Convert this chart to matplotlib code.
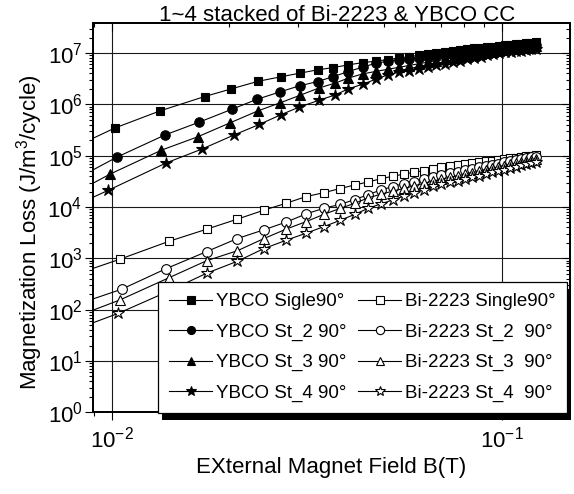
import numpy as np
import matplotlib
matplotlib.use('Agg')
import matplotlib.pyplot as plt
from matplotlib.ticker import LogLocator, NullFormatter, LogFormatterMathtext
from matplotlib.lines import Line2D
from matplotlib.patches import Rectangle

plt.rcParams['font.family'] = ['Liberation Sans', 'DejaVu Sans']
plt.rcParams['mathtext.fontset'] = 'custom'
plt.rcParams['mathtext.rm'] = 'Liberation Sans'
plt.rcParams['mathtext.it'] = 'Liberation Sans:italic'
plt.rcParams['mathtext.bf'] = 'Liberation Sans:bold'

# ---------------- data ----------------
title = "1~4 stacked of Bi-2223 & YBCO CC"
xlabel = "EXternal Magnet Field B(T)"
ylabel = "Magnetization Loss (J/m$^\\mathregular{3}$/cycle)"

x_ybco_tail = [0.0476, 0.0510, 0.0544, 0.0578, 0.0612, 0.0646, 0.0680, 0.0714, 0.0748,
               0.0782, 0.0816, 0.0850, 0.0884, 0.0918, 0.0952, 0.0986, 0.1020, 0.1054,
               0.1088, 0.1122, 0.1156, 0.1190, 0.1224]
x_bi_tail = [0.0175, 0.0210, 0.0245, 0.0280, 0.0315, 0.0350, 0.0385, 0.0420, 0.0455,
             0.0490, 0.0525, 0.0560, 0.0595, 0.0630, 0.0665, 0.0700, 0.0735, 0.0770,
             0.0805, 0.0840, 0.0875, 0.0910, 0.0945, 0.0980, 0.1015, 0.1050, 0.1085,
             0.1120, 0.1155, 0.1190, 0.1225]

x_ybco_s1 = [0.0068, 0.0102, 0.0133, 0.0173, 0.0202, 0.0237, 0.0271, 0.0304, 0.0337,
             0.0370, 0.0404, 0.0442] + x_ybco_tail
y_ybco_s1 = [8.2e4, 3.48e5, 7.47e5, 1.42e6, 1.99e6, 2.81e6, 3.44e6, 4.06e6, 4.71e6,
             5.21e6, 5.89e6, 6.53e6,
             6.95e6, 7.47e6, 7.98e6, 8.49e6, 9.0e6, 9.51e6, 1.002e7, 1.054e7, 1.105e7,
             1.156e7, 1.193e7, 1.23e7, 1.267e7, 1.303e7, 1.339e7, 1.374e7, 1.41e7,
             1.445e7, 1.479e7, 1.513e7, 1.548e7, 1.581e7, 1.614e7]

x_ybco_s2 = [0.0068, 0.0103, 0.0137, 0.0167, 0.0203, 0.0235, 0.0270, 0.0303, 0.0337,
             0.0370, 0.0404, 0.0442] + x_ybco_tail
y_ybco_s2 = [1.73e4, 9.35e4, 2.54e5, 4.46e5, 8.0e5, 1.245e6, 1.75e6, 2.3e6, 2.78e6,
             3.48e6, 4.36e6, 5.38e6,
             6.35e6, 6.92e6, 7.41e6, 7.8e6, 8.18e6, 8.56e6, 8.94e6, 9.31e6, 9.68e6,
             1.005e7, 1.041e7, 1.077e7, 1.113e7, 1.148e7, 1.185e7, 1.22e7, 1.256e7,
             1.291e7, 1.325e7, 1.36e7, 1.394e7, 1.428e7, 1.462e7]

x_ybco_s3 = [0.0068, 0.0099, 0.0134, 0.0166, 0.0201, 0.0237, 0.0270, 0.0303, 0.0339,
             0.0374, 0.0404, 0.0440] + x_ybco_tail
y_ybco_s3 = [9.5e3, 4.38e4, 1.28e5, 2.33e5, 4.36e5, 7.47e5, 1.07e6, 1.49e6, 2.07e6,
             2.6e6, 3.24e6, 3.93e6,
             4.39e6, 4.82e6, 5.26e6, 5.71e6, 6.18e6, 6.64e6, 7.1e6, 7.52e6, 7.95e6,
             8.38e6, 8.81e6, 9.25e6, 9.69e6, 1.014e7, 1.058e7, 1.103e7, 1.14e7,
             1.174e7, 1.209e7, 1.245e7, 1.279e7, 1.314e7, 1.349e7]

x_ybco_s4 = [0.0068, 0.0098, 0.0138, 0.0170, 0.0206, 0.0239, 0.0271, 0.0302, 0.0340,
             0.0374, 0.0404, 0.0441] + x_ybco_tail
y_ybco_s4 = [5.97e3, 2.12e4, 7.24e4, 1.34e5, 2.54e5, 4.07e5, 6.24e5, 8.82e5, 1.2e6,
             1.53e6, 2.0e6, 2.49e6,
             3.1e6, 3.76e6, 4.2e6, 4.54e6, 4.95e6, 5.37e6, 5.8e6, 6.24e6, 6.68e6,
             7.13e6, 7.59e6, 8.06e6, 8.54e6, 9.02e6, 9.51e6, 1.0e7, 1.03e7, 1.06e7,
             1.09e7, 1.12e7, 1.146e7, 1.174e7, 1.2e7]

x_bi_s1 = [0.0070, 0.0105, 0.0140] + x_bi_tail
y_bi_s1 = [336, 964, 2140,
           3690, 5810, 8630, 11860, 15960, 19050, 22900, 26900, 30900, 35500,
           39800, 43600, 47300, 51300, 55000, 58900, 62400, 66100, 69200, 71900,
           74700, 77500, 80300, 83000, 85800, 88500, 91300, 94000, 96700, 99400, 102200]

x_bi_s2 = [0.0070, 0.0106, 0.0138] + x_bi_tail
y_bi_s2 = [86, 250, 632,
           1352, 2432, 3580, 5080, 7340, 9480, 11200, 14000, 17500, 21500,
           25000, 28500, 31300, 34800, 39100, 42400, 45600, 48900, 52300, 55700,
           59300, 62900, 66600, 70400, 74100, 77700, 81300, 84900, 88600, 92300, 96200]

x_bi_s3 = [0.0070, 0.0105, 0.0140] + x_bi_tail
y_bi_s3 = [48, 155, 417,
           898, 1407, 2410, 3710, 5190, 7210, 9390, 11860, 15100, 17800,
           20300, 23000, 25800, 28800, 32000, 34800, 37800, 40700, 43900, 47000,
           50300, 53700, 57100, 60700, 64300, 67900, 71600, 75300, 79200, 83000, 87100]

x_bi_s4 = [0.0070, 0.0104, 0.0140] + x_bi_tail
y_bi_s4 = [27.6, 85, 230,
           512, 878, 1540, 2250, 3090, 4150, 5500, 7200, 9480, 11500,
           13700, 16200, 18900, 21900, 25100, 27500, 30100, 32700, 35400, 38200,
           41100, 44000, 47100, 50300, 53700, 57200, 60700, 64400, 68100, 71900, 75900]

labels_ybco = ["YBCO Sigle90°", "YBCO St_2 90°", "YBCO St_3 90°", "YBCO St_4 90°"]
labels_bi = ["Bi-2223 Single90°", "Bi-2223 St_2  90°", "Bi-2223 St_3  90°",
             "Bi-2223 St_4  90°"]

# ---------------- figure ----------------
W, H = 574, 494
fig = plt.figure(figsize=(W / 100, H / 100), dpi=100)
L, R, T, B = 93, 570, 22.7, 412.3
rect = [L / W, 1 - B / H, (R - L) / W, (B - T) / H]
ax = fig.add_axes(rect)
ax.set_xscale('log')
ax.set_yscale('log')
xlim = (0.00895, 0.1496)
ylim = (1, 3.9e7)
ax.set_xlim(*xlim)
ax.set_ylim(*ylim)

series = [
    (x_ybco_s1, y_ybco_s1, 's', 6.0, True),
    (x_ybco_s2, y_ybco_s2, 'o', 6.8, True),
    (x_ybco_s3, y_ybco_s3, '^', 7.2, True),
    (x_ybco_s4, y_ybco_s4, '*', 9.0, True),
    (x_bi_s1, y_bi_s1, 's', 6.0, False),
    (x_bi_s2, y_bi_s2, 'o', 7.0, False),
    (x_bi_s3, y_bi_s3, '^', 7.6, False),
    (x_bi_s4, y_bi_s4, '*', 9.0, False),
]
handles = []
for x, y, m, ms, filled in series:
    ax.plot(x, y, color='k', lw=0.8, marker=m, ms=ms,
            mfc='k' if filled else 'w', mec='k', mew=0.8, zorder=3)
    handles.append(Line2D([], [], color='k', lw=0.8, marker=m, ms=ms * 0.85,
                          mfc='k' if filled else 'w', mec='k', mew=0.8))

ax.grid(True, which='major', color='0.1', lw=0.8)

ax.yaxis.set_major_locator(LogLocator(base=10, numticks=20))
ax.yaxis.set_minor_locator(LogLocator(base=10, subs=np.arange(2, 10), numticks=200))
ax.yaxis.set_minor_formatter(NullFormatter())
ax.yaxis.set_major_formatter(LogFormatterMathtext())
ax.xaxis.set_major_locator(LogLocator(base=10, numticks=20))
ax.xaxis.set_minor_locator(LogLocator(base=10, subs=np.arange(2, 10), numticks=200))
ax.xaxis.set_minor_formatter(NullFormatter())
ax.xaxis.set_major_formatter(LogFormatterMathtext())

ax.tick_params(axis='both', which='major', direction='out', length=6, width=0.8,
               labelsize=16, top=False, right=False)
ax.tick_params(axis='both', which='minor', direction='out', length=3, width=0.8,
               top=False, right=False)
ax.tick_params(axis='y', which='major', pad=1.5)
ax.tick_params(axis='x', which='major', pad=4)
for s in ax.spines.values():
    s.set_linewidth(1.1)

# mirrored inward ticks on top and right
axr = ax.twinx()
axr.set_yscale('log')
axr.set_ylim(*ylim)
axr.yaxis.set_major_locator(LogLocator(base=10, numticks=20))
axr.yaxis.set_minor_locator(LogLocator(base=10, subs=np.arange(2, 10), numticks=200))
axr.yaxis.set_major_formatter(NullFormatter())
axr.yaxis.set_minor_formatter(NullFormatter())
axr.tick_params(axis='y', which='major', direction='in', length=6, width=0.8)
axr.tick_params(axis='y', which='minor', direction='in', length=3, width=0.8)

axt = ax.twiny()
axt.set_xscale('log')
axt.set_xlim(*xlim)
axt.xaxis.set_major_locator(LogLocator(base=10, numticks=20))
axt.xaxis.set_minor_locator(LogLocator(base=10, subs=np.arange(2, 10), numticks=200))
axt.xaxis.set_major_formatter(NullFormatter())
axt.xaxis.set_minor_formatter(NullFormatter())
axt.tick_params(axis='x', which='major', direction='in', length=6, width=0.8)
axt.tick_params(axis='x', which='minor', direction='in', length=3, width=0.8)
axt.yaxis.set_visible(False)
for a in (axr, axt):
    for s in a.spines.values():
        s.set_linewidth(1.1)

leg_right, leg_bottom = 0.9937, -0.0018
leg = axt.legend(handles, labels_ybco + labels_bi, ncol=2,
                 loc='lower right', bbox_to_anchor=(leg_right, leg_bottom),
                 bbox_transform=axt.transAxes, fontsize=13.5, frameon=True,
                 fancybox=False, edgecolor='k', framealpha=1, borderpad=0.6,
                 labelspacing=0.70, handlelength=2.3, handletextpad=0.2,
                 columnspacing=0.63, borderaxespad=0, shadow=False)
leg.get_frame().set_linewidth(0.9)

fig.text(337.5 / W, 1 - 21 / H, title, ha='center', va='baseline', fontsize=16)
fig.text(331 / W, 1 - 467 / H, xlabel, ha='center', va='center', fontsize=16)
fig.text(30 / W, 1 - 232 / H, ylabel, rotation=90, ha='center', va='center', fontsize=16)

# legend drop shadow: strips along the bottom and right of the legend box
# (legend box spans about 0.136..0.994 x -0.002..0.334 in axes fraction)
leg_w, leg_h = 0.858, 0.336
ax_w_px, ax_h_px = (R - L), (B - T)
ox, oy = 4.5 / ax_w_px, 7.0 / ax_h_px
x0 = leg_right - leg_w
strips = [
    (x0 + ox, leg_bottom - oy, leg_w, oy),
    (leg_right, leg_bottom - oy, ox, leg_h),
]
for sx, sy, sw, sh in strips:
    r = Rectangle((sx, sy), sw, sh, transform=axt.transAxes, facecolor='k',
                  edgecolor='none', zorder=6, clip_on=False)
    axt.add_artist(r)
    r.set_clip_path(None)
    r.set_clip_on(False)

fig.savefig('out.png', dpi=100)
